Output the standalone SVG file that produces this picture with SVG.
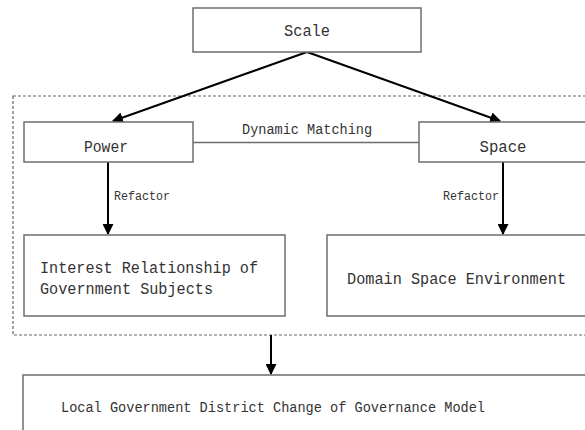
<svg xmlns="http://www.w3.org/2000/svg" width="585" height="430" viewBox="0 0 585 430">
<style>
.box{fill:#fff;stroke:#6e6e6e;stroke-width:1.5}
.t{font-family:"Liberation Mono","DejaVu Sans Mono",monospace;fill:#333}
.c{stroke:#000;stroke-width:2;fill:none}
.dash{fill:none;stroke:#666;stroke-width:1.2;stroke-dasharray:3,2}
</style>
<defs>
<marker id="ah" viewBox="0 0 10 10" refX="9" refY="5" markerWidth="5.5" markerHeight="5.5" orient="auto" markerUnits="strokeWidth">
<path d="M0,0 L10,5 L0,10 z" fill="#000"/>
</marker>
</defs>
<rect width="585" height="430" fill="#fff"/>
<rect class="dash" x="13" y="96" width="580" height="239"/>
<g id="connectors">
<line class="c" x1="307" y1="52" x2="113" y2="121" marker-end="url(#ah)"/>
<line class="c" x1="307" y1="52" x2="500" y2="121" marker-end="url(#ah)"/>
<line x1="193" y1="142.5" x2="419" y2="142.5" stroke="#6e6e6e" stroke-width="1.5"/>
<text class="t" x="307" y="134" font-size="14" text-anchor="middle" textLength="130" lengthAdjust="spacingAndGlyphs">Dynamic Matching</text>
<line class="c" x1="108" y1="162" x2="108" y2="234" marker-end="url(#ah)"/>
<text class="t" x="114" y="200" font-size="12" textLength="56" lengthAdjust="spacingAndGlyphs">Refactor</text>
<line class="c" x1="503" y1="162" x2="503" y2="234" marker-end="url(#ah)"/>
<text class="t" x="443" y="200" font-size="12" textLength="56" lengthAdjust="spacingAndGlyphs">Refactor</text>
<line class="c" x1="271" y1="335" x2="271" y2="374" marker-end="url(#ah)"/>
</g>
<g id="scale">
<rect class="box" x="193" y="8" width="228" height="44"/>
<text class="t" x="307" y="36" font-size="16" text-anchor="middle" textLength="46" lengthAdjust="spacingAndGlyphs">Scale</text>
</g>
<g id="power">
<rect class="box" x="24" y="122" width="169" height="40"/>
<text class="t" x="106" y="152" font-size="16" text-anchor="middle" textLength="44" lengthAdjust="spacingAndGlyphs">Power</text>
</g>
<g id="space">
<rect class="box" x="419" y="122" width="180" height="40"/>
<text class="t" x="503" y="152" font-size="16" text-anchor="middle" textLength="47" lengthAdjust="spacingAndGlyphs">Space</text>
</g>
<g id="interest">
<rect class="box" x="24" y="235" width="261" height="81"/>
<text class="t" x="40" y="273" font-size="16" textLength="218" lengthAdjust="spacingAndGlyphs">Interest Relationship of</text>
<text class="t" x="40" y="294" font-size="16" textLength="173" lengthAdjust="spacingAndGlyphs">Government Subjects</text>
</g>
<g id="domain">
<rect class="box" x="327" y="235" width="270" height="81"/>
<text class="t" x="347" y="284" font-size="16" textLength="219" lengthAdjust="spacingAndGlyphs">Domain Space Environment</text>
</g>
<g id="local">
<rect class="box" x="23" y="375" width="580" height="70"/>
<text class="t" x="61" y="412" font-size="14.5" textLength="424" lengthAdjust="spacingAndGlyphs">Local Government District Change of Governance Model</text>
</g>
</svg>
